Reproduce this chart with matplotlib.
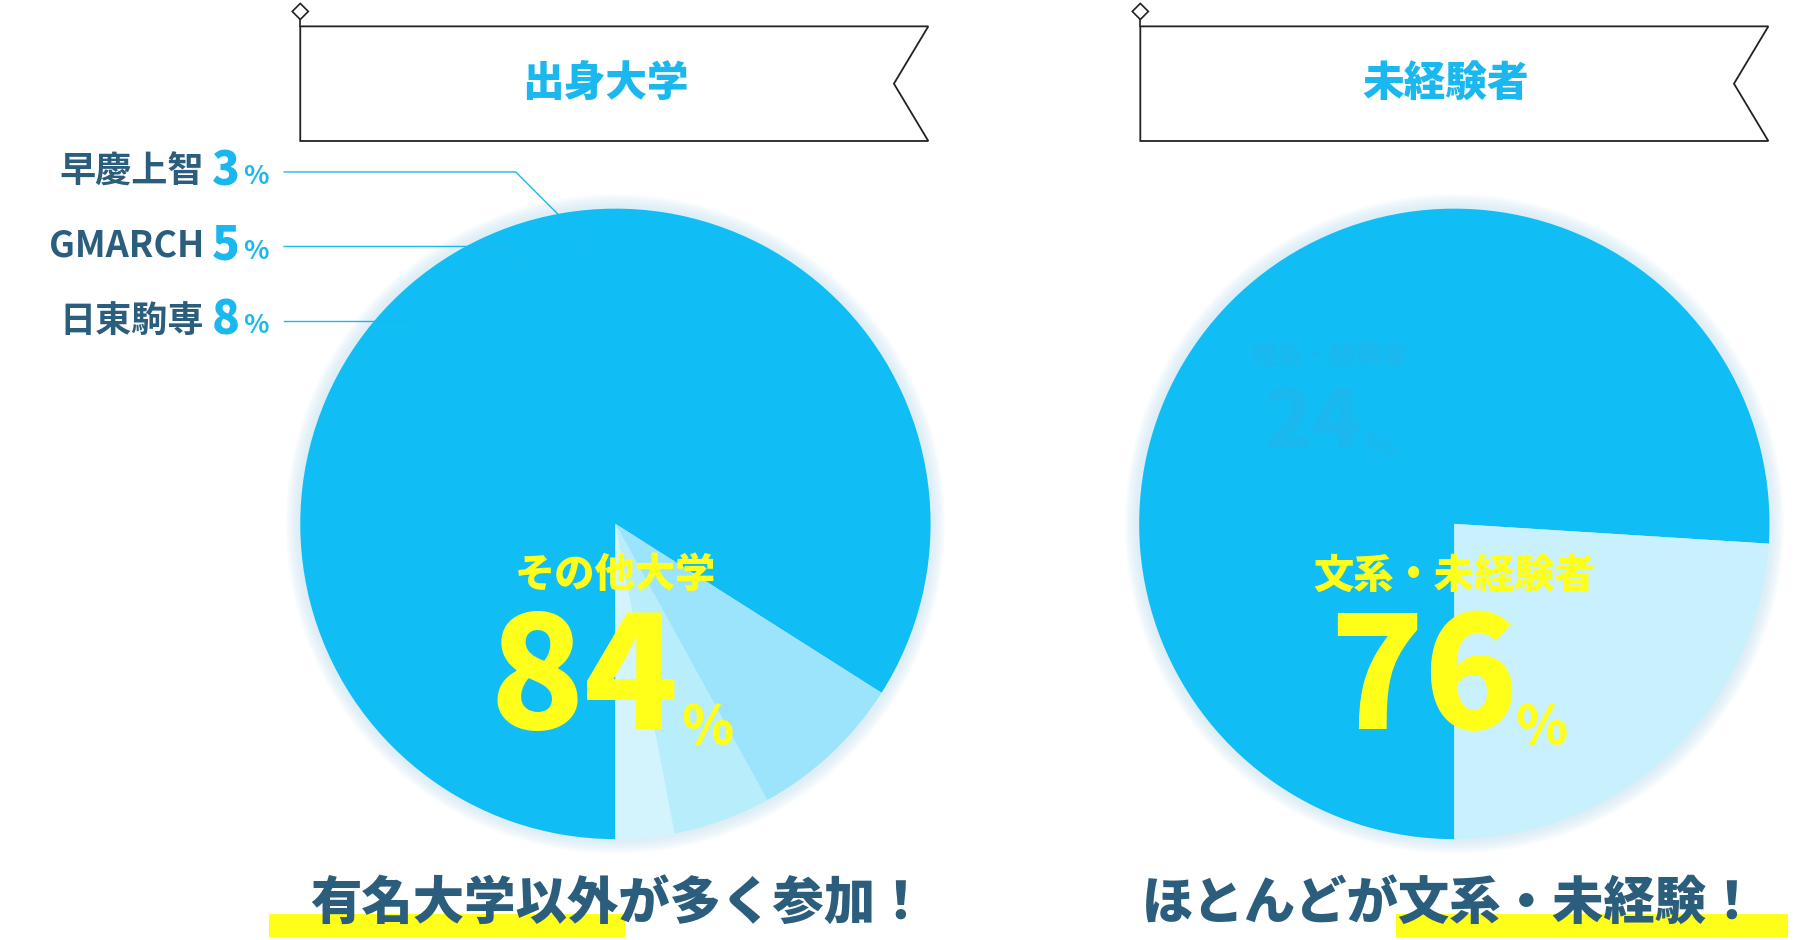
import matplotlib.pyplot as plt
from matplotlib.patches import Polygon, Circle, Rectangle

plt.rcParams['font.family'] = ['Noto Sans CJK JP', 'DejaVu Sans']

# data
uni_labels = ['その他大学', '日東駒専', 'GMARCH', '早慶上智']
uni_values = [84, 8, 5, 3]
uni_colors = ['#10bef5', '#9be4fb', '#b8edfc', '#d3f4fd']
exp_labels = ['文系・未経験者', '理系・経験者']
exp_values = [76, 24]
exp_colors = ['#10bef5', '#c9f1fd']

CYAN = '#1ab8ee'
DARK = '#2b5d7d'
YEL = '#ffff1a'

fig = plt.figure(figsize=(17.97, 9.40), dpi=100)
ax = fig.add_axes([0, 0, 1, 1])


def glow(cx, cy, r):
    for i in range(8):
        ax.add_patch(Circle((cx, cy), r + 2 + i * 1.5, color='#cfe8f5', alpha=0.12, lw=0, zorder=1))


def banner(x0, x1, title):
    pts = [(x0, 23), (x1, 23), (x1 - 30, 73), (x1, 123), (x0, 123)]
    ax.add_patch(Polygon(pts, closed=True, fc='white', ec='#222222', lw=1.3, zorder=3))
    ax.plot([x0, x0], [10, 23], color='#222222', lw=1.2, zorder=3)
    ax.add_patch(Polygon([(x0, 3), (x0 + 7, 10), (x0, 17), (x0 - 7, 10)], closed=True,
                         fc='white', ec='#222222', lw=1.2, zorder=4))
    ax.text((x0 + x1 - 15) / 2, 73, title, color=CYAN, fontsize=30, fontweight='black',
            ha='center', va='center', zorder=5)


# y axis is inverted, so counterclock=True draws clockwise on screen
glow(537, 457, 275)
ax.pie(uni_values, colors=uni_colors, startangle=90, counterclock=True,
       center=(537, 457), radius=275, frame=True, wedgeprops=dict(lw=0, zorder=2))
glow(1269, 457, 275)
ax.pie(exp_values, colors=exp_colors, startangle=90, counterclock=True,
       center=(1269, 457), radius=275, frame=True, wedgeprops=dict(lw=0, zorder=2))
ax.set_xlim(0, 1568)
ax.set_ylim(820, 0)
ax.set_aspect('auto')
ax.axis('off')

banner(262, 810, '出身大学')
banner(995, 1543, '未経験者')

# leader lines
ax.plot([248, 450, 517], [150, 150, 217], color=CYAN, lw=1, zorder=4)
ax.plot([248, 440, 463], [215, 215, 232], color=CYAN, lw=1, zorder=4)
ax.plot([248, 360], [280, 280], color=CYAN, lw=1, zorder=4)

side = [(uni_labels[3], uni_values[3], 150), (uni_labels[2], uni_values[2], 215),
        (uni_labels[1], uni_values[1], 280)]
for name, val, y in side:
    ax.text(178, y, name, color=DARK, fontsize=26, fontweight='bold', ha='right', va='center')
    ax.text(197, y, str(val), color=CYAN, fontsize=33, fontweight='black', ha='center', va='center')
    ax.text(223, y + 4, '%', color=CYAN, fontsize=19, fontweight='bold', ha='center', va='center')

# inner labels
ax.text(537, 502, uni_labels[0], color=YEL, fontsize=29, fontweight='black', ha='center', va='center', zorder=5)
ax.text(510, 595, str(uni_values[0]), color=YEL, fontsize=112, fontweight='black', ha='center', va='center', zorder=5)
ax.text(617, 635, '%', color=YEL, fontsize=38, fontweight='black', ha='center', va='center', zorder=5)

ax.text(1269, 502, exp_labels[0], color=YEL, fontsize=29, fontweight='black', ha='center', va='center', zorder=5)
ax.text(1242, 595, str(exp_values[0]), color=YEL, fontsize=112, fontweight='black', ha='center', va='center', zorder=5)
ax.text(1345, 635, '%', color=YEL, fontsize=38, fontweight='black', ha='center', va='center', zorder=5)

ax.text(1160, 310, exp_labels[1], color=CYAN, fontsize=19, fontweight='black', ha='center', va='center', zorder=5)
ax.text(1145, 370, str(exp_values[1]), color=CYAN, fontsize=58, fontweight='black', ha='center', va='center', zorder=5)
ax.text(1203, 390, '%', color=CYAN, fontsize=23, fontweight='black', ha='center', va='center', zorder=5)

# bottom captions
ax.add_patch(Rectangle((235, 797), 310, 20, color=YEL, lw=0, zorder=2))
ax.add_patch(Rectangle((1218, 797), 342, 20, color=YEL, lw=0, zorder=2))
ax.text(540, 788, '有名大学以外が多く参加！', color=DARK, fontsize=37, fontweight='black',
        ha='center', va='center', zorder=3)
ax.text(1265, 788, 'ほとんどが文系・未経験！', color=DARK, fontsize=37, fontweight='black',
        ha='center', va='center', zorder=3)

fig.savefig('out.png', dpi=100, facecolor='white')
